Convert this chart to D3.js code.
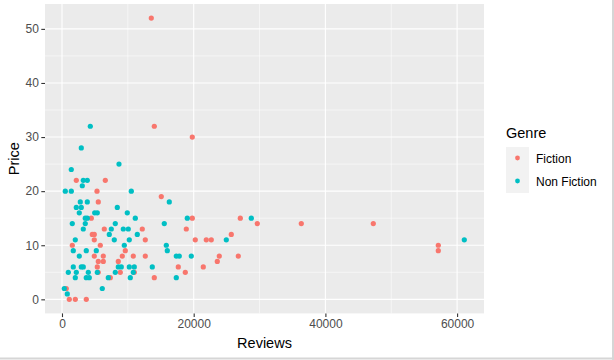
<!DOCTYPE html>
<html>
<head>
<meta charset="utf-8">
<script src="https://cdn.jsdelivr.net/npm/d3@7"></script>
<style>
  html, body { margin: 0; padding: 0; background: #fff; }
  svg { display: block; font-family: "Liberation Sans", Arial, sans-serif; }
</style>
</head>
<body>
<svg id="chart" width="614" height="360"></svg>
<script>
// ---- Data ----
const genres = ["Fiction", "Non Fiction"];
const colors = ["#F8766D", "#00BFC4"];

const fictionReviews = [6576, 2172, 5315, 5512, 4449, 6424, 12194, 4601, 4905, 4905, 12650, 1564, 5816, 9613,
  4905, 6272, 9157, 10828, 12650, 5512, 6272, 8550, 5361, 8853, 5500, 10980, 7335, 653, 1109, 2020, 3690,
  13561, 14017, 19787, 15080, 19787, 18876, 20242, 21913, 22672, 23887, 23584, 17661, 21457, 18724, 14017,
  27077, 29658, 36340, 25710, 26773, 47274, 57144, 57144];
const fictionPrice = [22, 22, 20, 18, 15, 13, 13, 12, 12, 11, 11, 10, 10, 9,
  8, 8, 8, 8, 8, 7, 7, 7, 6, 5, 5, 5, 4, 2, 0, 0, 0,
  52, 32, 30, 19, 15, 13, 11, 11, 11, 8, 7, 6, 6, 5, 4,
  15, 14, 14, 12, 8, 14, 10, 9];

const nonFictionReviews = [8656, 1412, 3235, 3842, 3083, 501, 1412, 10524, 2779, 3842, 16295, 2172, 2931, 8398,
  2627, 4966, 5361, 9916, 3538, 3842, 11131, 1564, 3538, 8094, 15535, 3235, 7487, 9309, 10068, 7183, 11435,
  2020, 7942, 10220, 9461, 15839, 1716, 3690, 5209, 15991, 2627, 17357, 17813, 19635,
  1716, 2931, 3235, 8550, 9005, 10220, 10980, 13713, 957, 2172, 3994, 5361, 8094, 10828,
  2020, 3690, 4146, 7031, 10372, 17357, 349, 805, 6120, 2931, 4298, 19028, 28747, 24951, 61093];
const nonFictionPrice = [25, 24, 22, 22, 21, 20, 20, 20, 18, 18, 18, 17, 17, 17,
  16, 16, 16, 16, 15, 15, 15, 14, 14, 14, 14, 13, 13, 13, 13, 12, 12,
  11, 11, 11, 10, 10, 9, 9, 9, 9, 8, 8, 8, 8,
  6, 6, 6, 6, 6, 6, 6, 6, 5, 5, 5, 5, 5, 5,
  4, 4, 4, 4, 4, 4, 2, 1, 2, 28, 32, 15, 15, 11, 11];

const xTicks = [0, 20000, 40000, 60000];
const xMinor = [10000, 30000, 50000];
const yTicks = [0, 10, 20, 30, 40, 50];
const yMinor = [5, 15, 25, 35, 45];

const points = [];
fictionReviews.forEach((r, i) => points.push({ reviews: r, price: fictionPrice[i], genre: genres[0] }));
nonFictionReviews.forEach((r, i) => points.push({ reviews: r, price: nonFictionPrice[i], genre: genres[1] }));

// ---- Layout ----
const svg = d3.select("#chart");
const panel = { left: 45, right: 484, top: 4, bottom: 313.4 };

const x = d3.scaleLinear().domain([-2580, 64085]).range([panel.left, panel.right]);
const y = d3.scaleLinear().domain([-2.6, 54.6]).range([panel.bottom, panel.top]);
const color = d3.scaleOrdinal().domain(genres).range(colors);

// frame lines (viewer border)
svg.append("line").attr("x1", 0).attr("x2", 614).attr("y1", 358.5).attr("y2", 358.5)
  .attr("stroke", "#D6D6D6").attr("stroke-width", 2);
svg.append("line").attr("x1", 613).attr("x2", 613).attr("y1", 0).attr("y2", 360)
  .attr("stroke", "#D6D6D6").attr("stroke-width", 2);

// panel background
svg.append("rect")
  .attr("x", panel.left).attr("y", panel.top)
  .attr("width", panel.right - panel.left).attr("height", panel.bottom - panel.top)
  .attr("fill", "#EBEBEB");

const grid = svg.append("g");
grid.selectAll(".xminor").data(xMinor).join("line")
  .attr("x1", d => x(d)).attr("x2", d => x(d))
  .attr("y1", panel.top).attr("y2", panel.bottom)
  .attr("stroke", "#fff").attr("stroke-width", 0.55);
grid.selectAll(".yminor").data(yMinor).join("line")
  .attr("y1", d => y(d)).attr("y2", d => y(d))
  .attr("x1", panel.left).attr("x2", panel.right)
  .attr("stroke", "#fff").attr("stroke-width", 0.55);
grid.selectAll(".xmajor").data(xTicks).join("line")
  .attr("x1", d => x(d)).attr("x2", d => x(d))
  .attr("y1", panel.top).attr("y2", panel.bottom)
  .attr("stroke", "#fff").attr("stroke-width", 1.1);
grid.selectAll(".ymajor").data(yTicks).join("line")
  .attr("y1", d => y(d)).attr("y2", d => y(d))
  .attr("x1", panel.left).attr("x2", panel.right)
  .attr("stroke", "#fff").attr("stroke-width", 1.1);

// points
svg.append("g").selectAll("circle").data(points).join("circle")
  .attr("cx", d => x(d.reviews))
  .attr("cy", d => y(d.price))
  .attr("r", 2.6)
  .attr("fill", d => color(d.genre));

// axes
const xAxis = d3.axisBottom(x).tickValues(xTicks).tickSize(3.7).tickPadding(2.5).tickFormat(d3.format("d"));
const gx = svg.append("g").attr("transform", `translate(0,${panel.bottom})`).call(xAxis);
gx.select(".domain").remove();
gx.selectAll(".tick line").attr("stroke", "#333333").attr("stroke-width", 1.1);
gx.selectAll(".tick text").attr("fill", "#4D4D4D").style("font-size", "12px")
  .style("font-family", "'Liberation Sans', Arial, sans-serif");

const yAxis = d3.axisLeft(y).tickValues(yTicks).tickSize(3.7).tickPadding(2.5);
const gy = svg.append("g").attr("transform", `translate(${panel.left},0)`).call(yAxis);
gy.select(".domain").remove();
gy.selectAll(".tick line").attr("stroke", "#333333").attr("stroke-width", 1.1);
gy.selectAll(".tick text").attr("fill", "#4D4D4D").style("font-size", "12px")
  .style("font-family", "'Liberation Sans', Arial, sans-serif");

// axis titles
svg.append("text").attr("x", (panel.left + panel.right) / 2).attr("y", 348)
  .attr("text-anchor", "middle").attr("fill", "#000").style("font-size", "14.5px").text("Reviews");
svg.append("text")
  .attr("transform", `translate(19,${(panel.top + panel.bottom) / 2}) rotate(-90)`)
  .attr("text-anchor", "middle").attr("fill", "#000").style("font-size", "14.5px").text("Price");

// legend
const lg = svg.append("g");
lg.append("text").attr("x", 506).attr("y", 138).attr("fill", "#000").style("font-size", "14.5px").text("Genre");
const keyH = 23;
genres.forEach((g, i) => {
  const ky = 147 + i * keyH;
  lg.append("rect").attr("x", 506).attr("y", ky).attr("width", 23).attr("height", keyH).attr("fill", "#F2F2F2");
  lg.append("circle").attr("cx", 517.5).attr("cy", ky + keyH / 2 - 0.5).attr("r", 2.4).attr("fill", color(g));
  lg.append("text").attr("x", 536).attr("y", ky + keyH / 2 + 4).attr("fill", "#000")
    .style("font-size", "12px").text(g);
});
</script>
</body>
</html>
